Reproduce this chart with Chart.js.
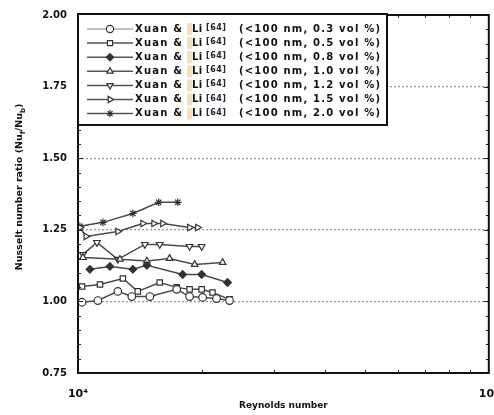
<!DOCTYPE html>
<html>
<head>
<meta charset="utf-8">
<script src="https://cdn.jsdelivr.net/npm/chart.js@4.4.1/dist/chart.umd.min.js"></script>
<style>
  html, body { margin: 0; padding: 0; background: #fff; }
  #wrap { width: 494px; height: 415px; }
</style>
</head>
<body>
<div id="wrap"><canvas id="nuChart" width="494" height="415"></canvas></div>
<script>
// series: Xuan & Li [64], <100 nm, by volume fraction
const volLabels = ['0.3', '0.5', '0.8', '1.0', '1.2', '1.5', '2.0'];

const re03 = [10230, 11180, 12500, 13520, 14960, 17390, 18690, 20110, 21740, 23380];
const nu03 = [0.997, 1.003, 1.035, 1.017, 1.017, 1.042, 1.017, 1.014, 1.010, 1.003];

const re05 = [10230, 11310, 12860, 13980, 15810, 17390, 18690, 20000, 21250, 23380];
const nu05 = [1.052, 1.059, 1.080, 1.035, 1.066, 1.049, 1.042, 1.042, 1.031, 1.007];

const re08 = [10690, 11960, 13600, 14710, 17980, 20000, 23120];
const nu08 = [1.112, 1.122, 1.112, 1.126, 1.094, 1.094, 1.066];

const re10 = [10280, 12650, 14710, 16710, 19230, 22490];
const nu10 = [1.153, 1.147, 1.141, 1.150, 1.129, 1.136];

const re12 = [10280, 11120, 12500, 14550, 15810, 18690, 20000];
const nu12 = [1.164, 1.206, 1.147, 1.199, 1.199, 1.192, 1.192];

const re15 = [10110, 10460, 12500, 14380, 15290, 16070, 18690, 19550];
const nu15 = [1.258, 1.227, 1.244, 1.272, 1.272, 1.272, 1.258, 1.258];

const re20 = [10110, 11500, 13600, 15720, 17490];
const nu20 = [1.262, 1.276, 1.307, 1.346, 1.346];

const yTicks = [0.75, 1.00, 1.25, 1.50, 1.75, 2.00];
const yGridAt = [1.00, 1.25, 1.50, 1.75];

const markers = [
    { style: 'circle', rot: 0, fill: '#fff' },
    { style: 'rect', rot: 0, fill: '#fff' },
    { style: 'rectRot', rot: 0, fill: '#333' },
    { style: 'triangle', rot: 0, fill: '#fff' },
    { style: 'triangle', rot: 180, fill: '#fff' },
    { style: 'triangle', rot: 90, fill: '#fff' },
    { style: 'star', rot: 0, fill: '#333' }
];

const allRe = [re03, re05, re08, re10, re12, re15, re20];
const allNu = [nu03, nu05, nu08, nu10, nu12, nu15, nu20];

const datasets = volLabels.map((v, i) => ({
    label: 'Xuan & Li [64] (<100 nm, ' + v + ' vol %)',
    data: allRe[i].map((r, k) => ({ x: r, y: allNu[i][k] })),
    showLine: true,
    borderColor: '#4a4a4a',
    borderWidth: 1.5,
    pointStyle: markers[i].style,
    pointRotation: markers[i].rot,
    pointRadius: 3.8,
    pointBorderWidth: 1.2,
    pointBorderColor: '#333',
    pointBackgroundColor: markers[i].fill
}));

const FONT = '"DejaVu Sans", Verdana, sans-serif';

const frameAndLegend = {
    id: 'frameAndLegend',
    afterDraw(chart) {
        const ctx = chart.ctx;
        const a = chart.chartArea;
        const xs = chart.scales.x, ys = chart.scales.y;
        ctx.save();

        // minor ticks, inward
        ctx.strokeStyle = '#222';
        ctx.lineWidth = 1;
        ctx.beginPath();
        for (let v = 0.80; v < 2.0; v += 0.05) {
            const py = Math.round(ys.getPixelForValue(v)) + 0.5;
            const len = yTicks.some(t => Math.abs(t - v) < 1e-6) ? 5 : 3;
            ctx.moveTo(a.left, py); ctx.lineTo(a.left + len, py);
            ctx.moveTo(a.right, py); ctx.lineTo(a.right - len, py);
        }
        for (let m = 2; m <= 9; m++) {
            const px = Math.round(xs.getPixelForValue(m * 1e4)) + 0.5;
            ctx.moveTo(px, a.bottom); ctx.lineTo(px, a.bottom - 3);
            ctx.moveTo(px, a.top); ctx.lineTo(px, a.top + 3);
        }
        ctx.stroke();

        // frame
        ctx.strokeStyle = '#111';
        ctx.lineWidth = 2;
        ctx.strokeRect(a.left, a.top, a.right - a.left, a.bottom - a.top);

        // legend box
        const bx = a.left, by = a.top - 1, bw = 309, bh = 111;
        ctx.fillStyle = '#fff';
        ctx.fillRect(bx, by, bw, bh);
        ctx.strokeRect(bx, by, bw, bh);

        chart.data.datasets.forEach((ds, i) => {
            const cy = by + 15 + i * 14.1;
            ctx.strokeStyle = i === 0 ? '#aaa' : '#555';
            ctx.lineWidth = 1.5;
            ctx.beginPath();
            ctx.moveTo(bx + 9, cy); ctx.lineTo(bx + 55, cy);
            ctx.stroke();
            ctx.strokeStyle = '#333';
            ctx.fillStyle = ds.pointBackgroundColor;
            ctx.lineWidth = 1.2;
            Chart.helpers.drawPoint(ctx, { pointStyle: ds.pointStyle, rotation: ds.pointRotation, radius: 3.6, borderWidth: 1.2 }, bx + 32, cy);

            ctx.textBaseline = 'middle';
            ctx.textAlign = 'left';
            ctx.fillStyle = '#111';
            ctx.font = 'bold 10px ' + FONT;
            ctx.letterSpacing = '1.2px';
            ctx.fillText('Xuan &', bx + 57, cy);
            ctx.fillStyle = 'rgba(240, 205, 130, 0.6)';
            ctx.fillRect(bx + 109, cy - 6, 5, 12);
            ctx.fillStyle = '#111';
            ctx.letterSpacing = '0.5px';
            ctx.fillText('Li', bx + 114, cy);
            ctx.font = 'bold 8px ' + FONT;
            ctx.fillStyle = '#223';
            ctx.fillText('[64]', bx + 128, cy - 1);
            ctx.fillStyle = '#111';
            ctx.font = 'bold 10px ' + FONT;
            ctx.letterSpacing = '1.2px';
            ctx.fillText('(<100 nm, ' + volLabels[i] + ' vol %)', bx + 161, cy);
        });
        ctx.letterSpacing = '0px';

        // y title with subscripts
        ctx.translate(20, 187);
        ctx.rotate(-Math.PI / 2);
        const parts = [['Nusselt number ratio (Nu', 0], ['f', 1], ['/Nu', 0], ['b', 1], [')', 0]];
        let total = 0;
        parts.forEach(p => {
            ctx.font = (p[1] ? 'bold 7px ' : 'bold 9.5px ') + FONT;
            total += ctx.measureText(p[0]).width;
        });
        let x = -total / 2;
        ctx.fillStyle = '#111';
        ctx.textBaseline = 'middle';
        parts.forEach(p => {
            ctx.font = (p[1] ? 'bold 7px ' : 'bold 9.5px ') + FONT;
            ctx.fillText(p[0], x, p[1] ? 3 : 0);
            x += ctx.measureText(p[0]).width;
        });
        ctx.restore();
    }
};

new Chart(document.getElementById('nuChart').getContext('2d'), {
    type: 'scatter',
    data: { datasets },
    options: {
        responsive: false,
        animation: false,
        layout: { padding: { top: 15, right: 4, left: 0, bottom: 0 } },
        plugins: { legend: { display: false }, tooltip: { enabled: false } },
        scales: {
            x: {
                type: 'logarithmic',
                min: 1e4,
                max: 1e5,
                afterFit: s => { s.height = 42; s.paddingLeft = 0; s.paddingRight = 0; },
                afterBuildTicks: s => { s.ticks = [{ value: 1e4 }, { value: 1e5 }]; },
                grid: { display: false },
                border: { display: false },
                ticks: {
                    autoSkip: false,
                    maxRotation: 0,
                    padding: 7,
                    color: '#111',
                    font: { family: FONT, size: 11, weight: 'bold' },
                    callback: v => v === 1e4 ? '10\u2074' : (v === 1e5 ? '10\u2075' : '')
                },
                title: {
                    display: true,
                    text: 'Reynolds number',
                    color: '#111',
                    font: { family: FONT, size: 9, weight: 'bold' },
                    padding: { top: 0, bottom: 4 }
                }
            },
            y: {
                min: 0.75,
                max: 2.0,
                afterFit: s => { s.width = 78; s.paddingTop = 0; s.paddingBottom = 0; },
                afterBuildTicks: s => { s.ticks = yTicks.map(v => ({ value: v })); },
                border: { display: false, dash: [2, 2] },
                grid: {
                    drawTicks: false,
                    color: c => yGridAt.some(g => Math.abs(g - c.tick.value) < 1e-6) ? '#999' : 'rgba(0,0,0,0)',
                    lineWidth: 1.3
                },
                ticks: {
                    padding: 11,
                    color: '#111',
                    font: { family: FONT, size: 10, weight: 'bold' },
                    callback: v => Number(v).toFixed(2)
                }
            }
        }
    },
    plugins: [frameAndLegend]
});
</script>
</body>
</html>
